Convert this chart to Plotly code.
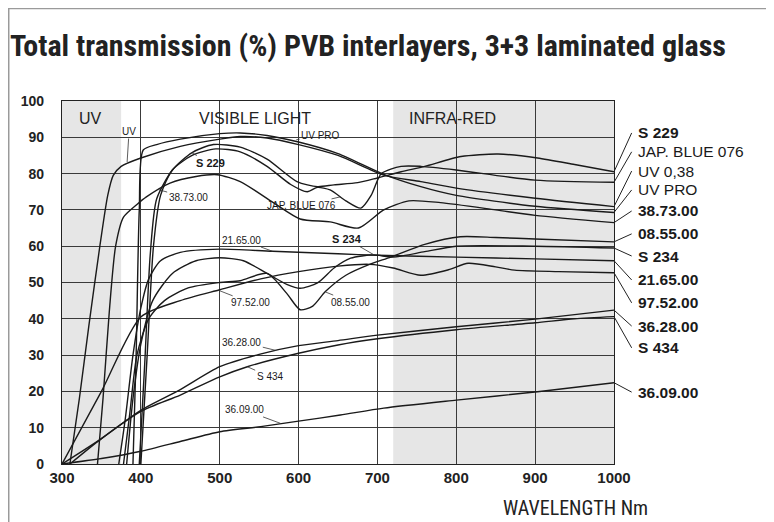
import plotly.graph_objects as go

# ---------------- data ----------------
UV038_NM = [310, 322, 334, 348, 358, 365, 375, 400, 450, 500, 526, 560, 600, 650, 708, 755, 800, 900, 1000]
UV038_T = [0, 18, 38, 60, 74, 79.5, 82, 84.3, 87.5, 89.5, 90.2, 89.8, 88, 85, 79.6, 77.8, 76, 73.2, 70.9]

UVPRO_NM = [390, 394, 398, 403, 420, 450, 500, 526, 560, 600, 650, 708, 755, 800, 900, 1000]
UVPRO_T = [0, 30, 70, 86.5, 88, 89.5, 91, 91.2, 90.5, 88.7, 85.5, 79.8, 76.4, 74, 71, 69.3]

S229_NM = [398, 405, 412, 420, 440, 465, 492, 526, 560, 598, 624, 645, 675, 700, 730, 760, 806, 853, 903, 950, 1000]
S229_T = [0, 28, 58, 73, 81, 85.8, 88, 87.3, 84, 77.8, 76.4, 76.9, 77.5, 78.8, 80.5, 82, 84.7, 85.4, 84.3, 82.5, 80.5]

JAP_NM = [400, 408, 416, 425, 440, 465, 495, 526, 560, 590, 611, 624, 640, 660, 679, 692, 705, 730, 755, 800, 900, 1000]
JAP_T = [0, 30, 60, 74, 81, 85, 86.8, 86, 82, 77, 75, 76.2, 75.5, 72.5, 70.5, 74, 80, 82, 82, 81, 78.2, 77.6]

G3873_NM = [345, 352, 360, 368, 378, 395, 407, 437, 470, 497, 526, 568, 602, 640, 676, 708, 740, 780, 850, 900, 1000]
G3873_T = [0, 18, 42, 60, 68, 71.5, 73.6, 77.4, 79.2, 79.7, 77.8, 72, 67.5, 66.7, 65, 70, 72.5, 72, 70, 68.5, 66.5]

G0855_NM = [378, 386, 395, 410, 430, 460, 500, 526, 560, 585, 602, 618, 634, 660, 690, 717, 760, 805, 850, 900, 1000]
G0855_T = [0, 14, 30, 40, 45, 48.5, 50, 50.5, 52.5, 47, 42.5, 43.5, 47.5, 52, 55, 57, 60.5, 62.6, 62.4, 62, 61.2]

S234_NM = [382, 390, 400, 415, 440, 470, 500, 530, 560, 585, 602, 624, 645, 666, 695, 720, 760, 800, 900, 1000]
S234_T = [0, 18, 33, 45, 52.5, 56, 56.8, 56, 52.5, 49.5, 48.4, 49.9, 54, 56.7, 57.6, 57, 58.5, 60, 60, 59.5]

G2165_NM = [372, 380, 390, 400, 410, 425, 450, 500, 567, 650, 700, 800, 900, 1000]
G2165_T = [0, 12, 30, 43, 51, 56, 58.3, 59.2, 58.6, 57.9, 57.5, 57, 56.5, 56]

G9752_NM = [300, 350, 400, 450, 500, 552, 600, 650, 690, 720, 755, 790, 815, 850, 874, 930, 1000]
G9752_T = [0, 20, 40.5, 45, 48, 51, 53, 54.5, 55, 54, 52, 53.5, 55.3, 54.3, 53.4, 53, 52.7]

G3628_NM = [300, 350, 400, 450, 500, 550, 600, 650, 700, 800, 900, 1000]
G3628_T = [0, 7, 14.8, 20.5, 26.8, 30.2, 32.6, 34, 35.5, 37.8, 39.9, 42.4]

S434_NM = [310, 350, 400, 450, 500, 535, 600, 650, 700, 800, 900, 950, 1000]
S434_T = [0, 7, 14.5, 19, 24, 26.8, 30.5, 32.8, 34.5, 37, 38.9, 40, 40.6]

G3609_NM = [300, 350, 400, 450, 500, 552, 600, 653, 708, 800, 903, 1000]
G3609_T = [0, 1.5, 3.5, 6.2, 8.9, 10.3, 11.8, 13.5, 15.4, 17.6, 19.9, 22.4]

# right-hand legend labels (top to bottom) and the label heights (in % units)
RIGHT_LABELS = ["S 229", "JAP. BLUE 076", "UV 0,38", "UV PRO", "38.73.00", "08.55.00",
                "S 234", "21.65.00", "97.52.00", "36.28.00", "S 434", "36.09.00"]
RIGHT_BOLD = [True, False, False, False, True, True, True, True, True, True, True, True]
RIGHT_LABEL_Y = [91.2, 86.0, 80.7, 75.5, 69.7, 63.4, 57.3, 50.7, 44.4, 38.0, 32.0, 19.8]

# in-plot labels: text, text position (nm, %), pointer target (nm, %)
INPLOT_TEXT = ["UV", "UV PRO", "S 229", "38.73.00", "JAP. BLUE 076", "21.65.00",
               "S 234", "97.52.00", "08.55.00", "36.28.00", "S 434", "36.09.00"]
INPLOT_POS = [(385, 91.6), (628, 90.6), (488, 82.9), (460, 73.3), (604, 71.1), (528, 61.7),
              (661, 62.0), (539, 44.4), (666, 44.6), (528, 33.6), (564, 24.0), (531, 14.9)]
INPLOT_TGT = [(382.6, 83.2), (597, 89.3), (465, 85.7), (422, 75.6), (653, 73.6), (567, 58.6),
              (695, 57.7), (498, 47.9), (634, 47.4), (571, 31.3), (535, 26.8), (577, 11.2)]
INPLOT_BOLD = [False, False, True, False, False, False, True, False, False, False, False, False]

X_TICKS = [300, 400, 500, 600, 700, 800, 900, 1000]
Y_TICKS = [0, 10, 20, 30, 40, 50, 60, 70, 80, 90, 100]

SERIES = [
    ("S 229", S229_NM, S229_T),
    ("JAP. BLUE 076", JAP_NM, JAP_T),
    ("UV 0,38", UV038_NM, UV038_T),
    ("UV PRO", UVPRO_NM, UVPRO_T),
    ("38.73.00", G3873_NM, G3873_T),
    ("08.55.00", G0855_NM, G0855_T),
    ("S 234", S234_NM, S234_T),
    ("21.65.00", G2165_NM, G2165_T),
    ("97.52.00", G9752_NM, G9752_T),
    ("36.28.00", G3628_NM, G3628_T),
    ("S 434", S434_NM, S434_T),
    ("36.09.00", G3609_NM, G3609_T),
]

FONT = "Liberation Sans Narrow, Roboto Condensed, Arial Narrow, Liberation Sans, sans-serif"
FONT_N = "Liberation Sans, Arial, sans-serif"

fig = go.Figure()
for name, xs, ys in SERIES:
    fig.add_trace(go.Scatter(x=xs, y=ys, mode="lines", name=name,
                             line=dict(color="#1a1a1a", width=1.4, shape="spline", smoothing=0.7),
                             showlegend=False, hoverinfo="x+y+name"))

shapes = []
# shaded UV and IR regions
shapes.append(dict(type="rect", xref="x", yref="y", x0=300, x1=375, y0=0, y1=100,
                   fillcolor="#e6e6e6", line=dict(width=0), layer="below"))
shapes.append(dict(type="rect", xref="x", yref="y", x0=720, x1=1000, y0=0, y1=100,
                   fillcolor="#e6e6e6", line=dict(width=0), layer="below"))
# outer frame of the picture
shapes.append(dict(type="rect", xref="paper", yref="paper", x0=-0.0965, x1=1.2808, y0=-0.25, y1=1.2548,
                   line=dict(color="#9a9a9a", width=1.5), fillcolor="rgba(0,0,0,0)"))
# right-hand leader lines: from the curve end at 1000 nm to the label
for (name, xs, ys), ly in zip(SERIES, RIGHT_LABEL_Y):
    shapes.append(dict(type="line", xref="paper", yref="y", x0=1.0, y0=ys[-1], x1=1.032, y1=ly,
                       line=dict(color="#222222", width=1)))

annotations = []
annotations.append(dict(text="Total transmission (%) PVB interlayers, 3+3 laminated glass",
                        xref="paper", yref="paper", x=-0.0978, y=1.154, xanchor="left", yanchor="middle",
                        showarrow=False,
                        font=dict(family=FONT, size=30, color="#222222", weight="bold")))
annotations.append(dict(text="WAVELENGTH Nm", xref="paper", yref="paper", x=1.065, y=-0.121,
                        xanchor="right", yanchor="middle", showarrow=False,
                        font=dict(family=FONT, size=20, color="#222222")))
for txt, xpos in [("UV", 335.6), ("VISIBLE LIGHT", 545), ("INFRA-RED", 795.5)]:
    annotations.append(dict(text=txt, x=xpos, y=95.3, xref="x", yref="y", showarrow=False,
                            font=dict(family=FONT_N, size=16, color="#222222")))
for txt, bold, ly in zip(RIGHT_LABELS, RIGHT_BOLD, RIGHT_LABEL_Y):
    annotations.append(dict(text=txt, xref="paper", yref="y", x=1.040, y=ly, xanchor="left",
                            yanchor="middle", showarrow=False,
                            font=dict(family=FONT_N, size=15.5, color="#1a1a1a",
                                      weight="bold" if bold else "normal")))
for txt, (px, py), (tx, ty), bold in zip(INPLOT_TEXT, INPLOT_POS, INPLOT_TGT, INPLOT_BOLD):
    annotations.append(dict(text=txt, x=tx, y=ty, xref="x", yref="y", ax=px, ay=py,
                            axref="x", ayref="y", showarrow=True, arrowhead=0, arrowwidth=0.8,
                            arrowcolor="#333333", standoff=0, startstandoff=0,
                            bgcolor="rgba(255,255,255,0)",
                            font=dict(family=FONT_N, size=11 if bold else 10, color="#1a1a1a",
                                      weight="bold" if bold else "normal")))

fig.update_layout(
    width=766, height=514,
    margin=dict(l=54, r=160, t=93, b=58),
    paper_bgcolor="white", plot_bgcolor="white",
    shapes=shapes, annotations=annotations,
    xaxis=dict(range=[300, 1000], tickvals=X_TICKS, showgrid=True, gridcolor="#3a3a3a", gridwidth=0.8,
               zeroline=False, showline=True, linecolor="#222222", linewidth=1.2, mirror=True,
               ticks="", tickfont=dict(family=FONT_N, size=15, color="#222222", weight="bold")),
    yaxis=dict(range=[0, 100], tickvals=Y_TICKS, showgrid=True, gridcolor="#3a3a3a", gridwidth=0.8,
               zeroline=False, showline=True, linecolor="#222222", linewidth=1.2, mirror=True,
               ticks="", ticklabelstandoff=14,
               tickfont=dict(family=FONT_N, size=14, color="#222222", weight="bold")),
)

fig.write_html("out.html")
